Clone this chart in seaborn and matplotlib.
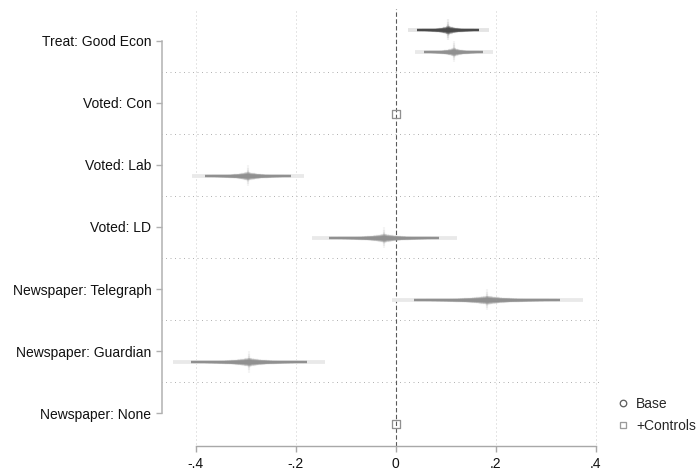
import math
import numpy as np
import pandas as pd
import matplotlib
matplotlib.use("Agg")
import matplotlib.pyplot as plt
from matplotlib.lines import Line2D
import seaborn as sns

# ---------------- data ----------------
categories = ["Treat: Good Econ", "Voted: Con", "Voted: Lab", "Voted: LD",
              "Newspaper: Telegraph", "Newspaper: Guardian", "Newspaper: None"]
base_est = [0.105, np.nan, np.nan, np.nan, np.nan, np.nan, np.nan]
base_se = [0.0315, np.nan, np.nan, np.nan, np.nan, np.nan, np.nan]
ctrl_est = [0.116, 0.0, -0.2955, -0.023, 0.183, -0.2935, 0.0]
ctrl_se = [0.0302, np.nan, 0.0437, 0.0562, 0.0743, 0.059, np.nan]
series_names = ["Base", "+Controls"]
xtick_vals = [-0.4, -0.2, 0.0, 0.2, 0.4]
xtick_labels = ["-.4", "-.2", "0", ".2", ".4"]

# ---------------- style ----------------
sns.set_theme(style="white")
plt.rcParams["font.family"] = ["Liberation Sans", "DejaVu Sans"]
FS = 10.0
PX = 0.72  # points per pixel at 100 dpi

def zcrit(level):
    lo, hi = 0.0, 10.0
    target = (1 + level) / 2
    for _ in range(60):
        mid = (lo + hi) / 2
        if 0.5 * (1 + math.erf(mid / math.sqrt(2))) < target:
            lo = mid
        else:
            hi = mid
    return (lo + hi) / 2

fig = plt.figure(figsize=(6.98, 4.73), dpi=100)
ax = fig.add_axes([162 / 698, 27 / 473, 438 / 698, 437 / 473])

ypos = np.arange(len(categories), dtype=float)
off = {"Base": -0.175, "+Controls": 0.175}
col_dark = {"Base": "#4a4a4a", "+Controls": "#909090"}
col_light = {"Base": "#e4e4e4", "+Controls": "#e9e9e9"}

def smooth_ci(est, se, y, name):
    c = col_dark[name]
    z99, z95 = zcrit(0.99), zcrit(0.95)
    ax.hlines(y, est - z99 * se, est + z99 * se, color=col_light[name],
              lw=3.8 * PX, zorder=3, capstyle="butt")
    for l in np.linspace(0.02, 0.94, 26):
        z = zcrit(l)
        w = 2.4 + 7.0 * (1 - l) ** 2
        ax.hlines(y, est - z * se, est + z * se, color=c, alpha=0.14,
                  lw=w * PX, zorder=4, capstyle="butt")
    ax.hlines(y, est - z95 * se, est + z95 * se, color=c, lw=2.4 * PX,
              zorder=5, capstyle="butt")
    for h in [0.04, 0.07, 0.10, 0.13, 0.17]:
        ax.vlines(est, y - h, y + h, color=c, alpha=0.09, lw=2.2 * PX, zorder=4)

rows = []
for name, ests, ses in [("Base", base_est, base_se), ("+Controls", ctrl_est, ctrl_se)]:
    for i, (e, s) in enumerate(zip(ests, ses)):
        if np.isnan(e):
            continue
        y = ypos[i] + off[name]
        if np.isnan(s):
            rows.append({"est": e, "y": y, "model": name})
        else:
            smooth_ci(e, s, y, name)

pts = pd.DataFrame(rows)
sns.scatterplot(data=pts, x="est", y="y", ax=ax, marker="s", s=(8 * PX) ** 2,
                facecolors="none", edgecolor=col_dark["+Controls"], linewidth=1.3 * PX,
                legend=False, zorder=6)

# grid lines
ax.vlines([v for v in xtick_vals if v != 0], -1, 8, color="#cccccc", lw=1.0 * PX,
          linestyles=[(0, (1, 3))], zorder=1)
ax.hlines(ypos[:-1] + 0.5, -1, 1, color="#b4b4b4", lw=1.0 * PX,
          linestyles=[(0, (1, 3.5))], zorder=1)
ax.axvline(0, color="#5a5a5a", lw=1.1 * PX, ls=(0, (4, 2.2)), zorder=2)

ax.set_xlim((162 - 395.7) / 500.3, (600 - 395.7) / 500.3)
ax.set_ylim(6.527, -0.51)

ax.set_yticks(ypos)
ax.set_yticklabels(categories, fontsize=FS, color="#111111")
ax.set_xticks(xtick_vals)
ax.set_xticklabels(xtick_labels, fontsize=FS, color="#111111")
ax.set_xlabel("")
ax.set_ylabel("")

for s in ["top", "right"]:
    ax.spines[s].set_visible(False)
ax.spines["left"].set_bounds(0, len(categories) - 1)
ax.spines["left"].set_color("#b0b0b0")
ax.spines["left"].set_linewidth(1.5 * PX)
ax.spines["bottom"].set_bounds(-0.4, 0.4)
ax.spines["bottom"].set_color("#a8a8a8")
ax.spines["bottom"].set_linewidth(1.4 * PX)
ax.tick_params(axis="y", left=True, length=6 * PX, width=1.4 * PX, color="#b0b0b0", pad=3.3)
ax.tick_params(axis="x", bottom=True, length=6 * PX, width=1.4 * PX, color="#a8a8a8", pad=3.5)

handles = [
    Line2D([], [], ls="none", marker="o", markersize=6.5 * PX, markerfacecolor="none",
           markeredgecolor="#606060", markeredgewidth=1.3 * PX),
    Line2D([], [], ls="none", marker="s", markersize=6.5 * PX, markerfacecolor="none",
           markeredgecolor="#9a9a9a", markeredgewidth=1.3 * PX),
]
fig.legend(handles, series_names, loc="center left", bbox_to_anchor=(616 / 698, 1 - 415 / 473),
           bbox_transform=fig.transFigure, frameon=False, fontsize=FS, handlelength=1.0,
           handletextpad=0.45, labelspacing=0.55, borderpad=0, borderaxespad=0)

fig.savefig("out.png", dpi=100)
